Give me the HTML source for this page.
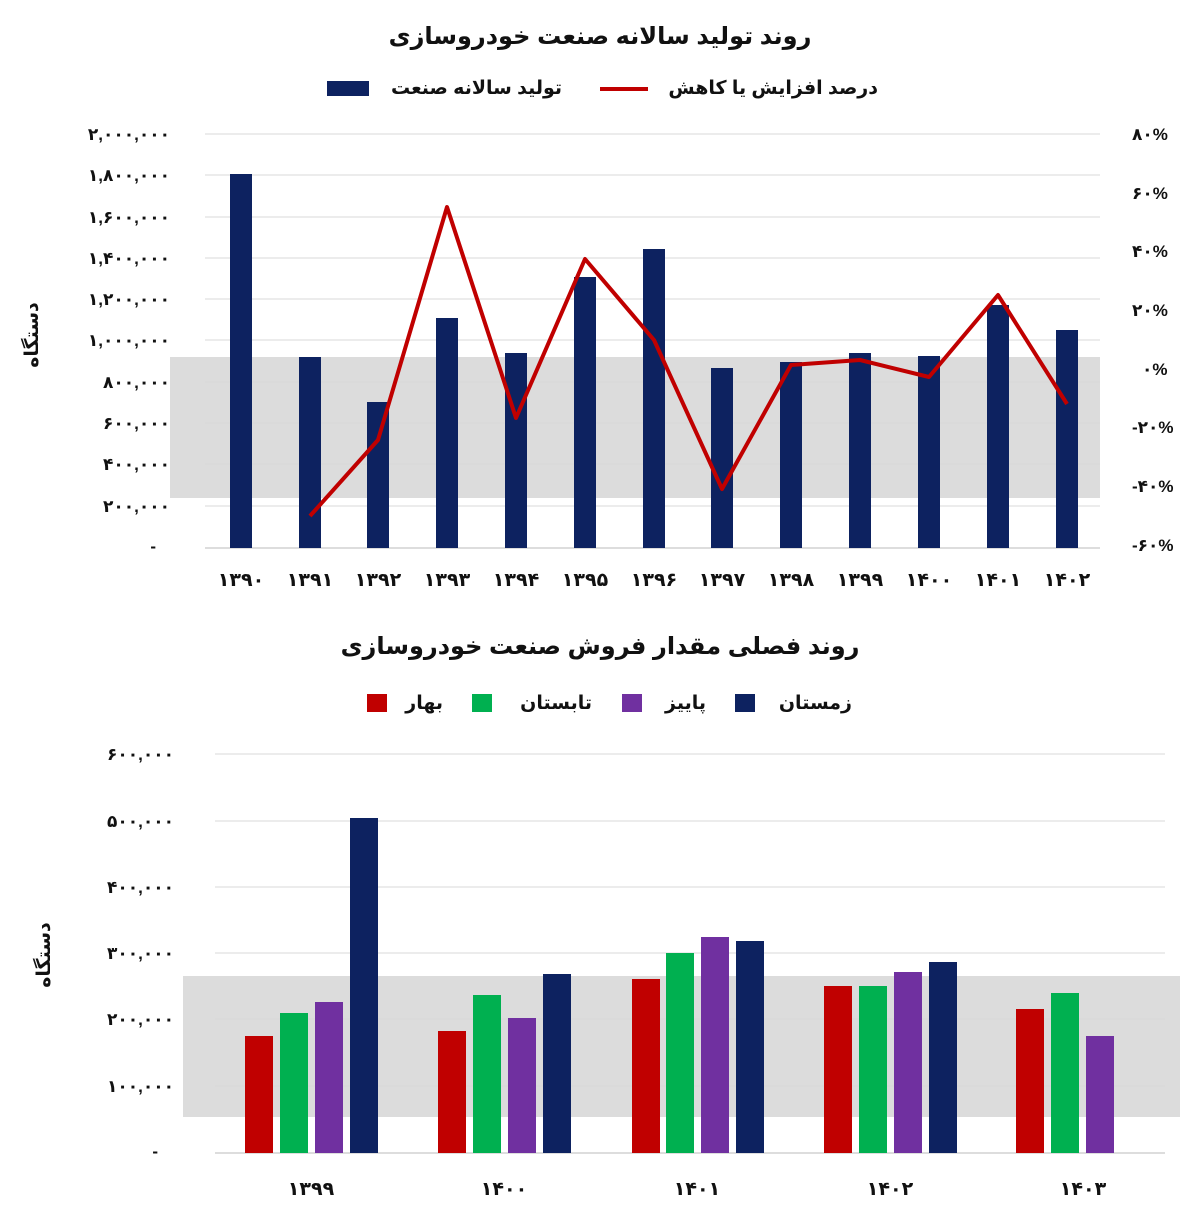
<!DOCTYPE html>
<html><head><meta charset="utf-8"><style>
body{margin:0;background:#fff}
svg{display:block}
text{font-family:"Liberation Sans","Noto Sans CJK SC","DejaVu Sans",sans-serif;font-weight:bold;fill:#111}
</style></head><body>
<svg width="1200" height="1218" viewBox="0 0 1200 1218" xmlns="http://www.w3.org/2000/svg">
<rect width="1200" height="1218" fill="#fff"/>
<!-- TOP CHART -->
<text x="600" y="44" font-size="24" text-anchor="middle">روند تولید سالانه صنعت خودروسازی</text>
<rect x="327" y="81" width="42" height="15" fill="#0d2260"/>
<text x="562" y="94" font-size="19" text-anchor="end">تولید سالانه صنعت</text>
<line x1="600" y1="89" x2="648" y2="89" stroke="#c00000" stroke-width="4"/>
<text x="878" y="94" font-size="19" text-anchor="end">درصد افزایش یا کاهش</text>
<rect x="170" y="357" width="930" height="141" fill="#dcdcdc"/>
<g stroke="#d9d9d9" stroke-width="1">
<line x1="205" x2="1100" y1="134" y2="134"/><line x1="205" x2="1100" y1="175" y2="175"/>
<line x1="205" x2="1100" y1="217" y2="217"/><line x1="205" x2="1100" y1="258" y2="258"/>
<line x1="205" x2="1100" y1="299" y2="299"/><line x1="205" x2="1100" y1="340" y2="340"/>
<line x1="205" x2="1100" y1="382" y2="382"/><line x1="205" x2="1100" y1="423" y2="423"/>
<line x1="205" x2="1100" y1="464" y2="464"/><line x1="205" x2="1100" y1="506" y2="506"/>
<line x1="205" x2="1100" y1="548" y2="548" stroke="#bbb"/>
</g>
<g font-size="17" text-anchor="end">
<text x="170" y="140">۲,۰۰۰,۰۰۰</text><text x="170" y="181">۱,۸۰۰,۰۰۰</text>
<text x="170" y="223">۱,۶۰۰,۰۰۰</text><text x="170" y="264">۱,۴۰۰,۰۰۰</text>
<text x="170" y="305">۱,۲۰۰,۰۰۰</text><text x="170" y="346">۱,۰۰۰,۰۰۰</text>
<text x="170" y="388">۸۰۰,۰۰۰</text><text x="170" y="429">۶۰۰,۰۰۰</text>
<text x="170" y="470">۴۰۰,۰۰۰</text><text x="170" y="512">۲۰۰,۰۰۰</text>
<text x="156" y="552">-</text>
</g>
<g font-size="17" text-anchor="start">
<text x="1132" y="140">۸۰%</text><text x="1132" y="199">۶۰%</text>
<text x="1132" y="257">۴۰%</text><text x="1132" y="316">۲۰%</text>
<text x="1142" y="375">۰%</text><text x="1132" y="433">-۲۰%</text>
<text x="1132" y="492">-۴۰%</text><text x="1132" y="551">-۶۰%</text>
</g>
<text transform="translate(38,335) rotate(-90)" font-size="19" text-anchor="middle">دستگاه</text>
<g fill="#0d2260">
<rect x="230" y="174" width="22" height="374"/><rect x="299" y="357" width="22" height="191"/>
<rect x="367" y="402" width="22" height="146"/><rect x="436" y="318" width="22" height="230"/>
<rect x="505" y="353" width="22" height="195"/><rect x="574" y="277" width="22" height="271"/>
<rect x="643" y="249" width="22" height="299"/><rect x="711" y="368" width="22" height="180"/>
<rect x="780" y="362" width="22" height="186"/><rect x="849" y="353" width="22" height="195"/>
<rect x="918" y="356" width="22" height="192"/><rect x="987" y="305" width="22" height="243"/>
<rect x="1056" y="330" width="22" height="218"/>
</g>
<polyline fill="none" stroke="#c00000" stroke-width="4" stroke-linejoin="round" points="310,516 378,440 447,207 516,418 585,259 654,340 722,489 791,365 860,360 929,377 998,295 1067,404"/>
<g font-size="19" text-anchor="middle">
<text x="241" y="586">۱۳۹۰</text><text x="310" y="586">۱۳۹۱</text><text x="378" y="586">۱۳۹۲</text>
<text x="447" y="586">۱۳۹۳</text><text x="516" y="586">۱۳۹۴</text><text x="585" y="586">۱۳۹۵</text>
<text x="654" y="586">۱۳۹۶</text><text x="722" y="586">۱۳۹۷</text><text x="791" y="586">۱۳۹۸</text>
<text x="860" y="586">۱۳۹۹</text><text x="929" y="586">۱۴۰۰</text><text x="998" y="586">۱۴۰۱</text>
<text x="1067" y="586">۱۴۰۲</text>
</g>
<!-- BOTTOM CHART -->
<text x="600" y="654" font-size="24" text-anchor="middle">روند فصلی مقدار فروش صنعت خودروسازی</text>
<rect x="367" y="694" width="20" height="18" fill="#c00000"/>
<text x="443" y="709" font-size="19" text-anchor="end">بهار</text>
<rect x="472" y="694" width="20" height="18" fill="#00b050"/>
<text x="592" y="709" font-size="19" text-anchor="end">تابستان</text>
<rect x="622" y="694" width="20" height="18" fill="#7030a0"/>
<text x="706" y="709" font-size="19" text-anchor="end">پاییز</text>
<rect x="735" y="694" width="20" height="18" fill="#0d2260"/>
<text x="852" y="709" font-size="19" text-anchor="end">زمستان</text>
<rect x="183" y="976" width="997" height="141" fill="#dcdcdc"/>
<g stroke="#d9d9d9" stroke-width="1">
<line x1="215" x2="1165" y1="754" y2="754"/><line x1="215" x2="1165" y1="821" y2="821"/>
<line x1="215" x2="1165" y1="887" y2="887"/><line x1="215" x2="1165" y1="953" y2="953"/>
<line x1="215" x2="1165" y1="1019" y2="1019"/><line x1="215" x2="1165" y1="1086" y2="1086"/>
<line x1="215" x2="1165" y1="1153" y2="1153" stroke="#bbb"/>
</g>
<g font-size="17" text-anchor="end">
<text x="174" y="760">۶۰۰,۰۰۰</text><text x="174" y="827">۵۰۰,۰۰۰</text>
<text x="174" y="893">۴۰۰,۰۰۰</text><text x="174" y="959">۳۰۰,۰۰۰</text>
<text x="174" y="1025">۲۰۰,۰۰۰</text><text x="174" y="1092">۱۰۰,۰۰۰</text>
<text x="158" y="1157">-</text>
</g>
<text transform="translate(50,955) rotate(-90)" font-size="19" text-anchor="middle">دستگاه</text>
<g>
<rect x="245" y="1036" width="28" height="117" fill="#c00000"/><rect x="280" y="1013" width="28" height="140" fill="#00b050"/>
<rect x="315" y="1002" width="28" height="151" fill="#7030a0"/><rect x="350" y="818" width="28" height="335" fill="#0d2260"/>
<rect x="438" y="1031" width="28" height="122" fill="#c00000"/><rect x="473" y="995" width="28" height="158" fill="#00b050"/>
<rect x="508" y="1018" width="28" height="135" fill="#7030a0"/><rect x="543" y="974" width="28" height="179" fill="#0d2260"/>
<rect x="632" y="979" width="28" height="174" fill="#c00000"/><rect x="666" y="953" width="28" height="200" fill="#00b050"/>
<rect x="701" y="937" width="28" height="216" fill="#7030a0"/><rect x="736" y="941" width="28" height="212" fill="#0d2260"/>
<rect x="824" y="986" width="28" height="167" fill="#c00000"/><rect x="859" y="986" width="28" height="167" fill="#00b050"/>
<rect x="894" y="972" width="28" height="181" fill="#7030a0"/><rect x="929" y="962" width="28" height="191" fill="#0d2260"/>
<rect x="1016" y="1009" width="28" height="144" fill="#c00000"/><rect x="1051" y="993" width="28" height="160" fill="#00b050"/>
<rect x="1086" y="1036" width="28" height="117" fill="#7030a0"/>
</g>
<g font-size="19" text-anchor="middle">
<text x="311" y="1195">۱۳۹۹</text><text x="504" y="1195">۱۴۰۰</text><text x="697" y="1195">۱۴۰۱</text>
<text x="890" y="1195">۱۴۰۲</text><text x="1083" y="1195">۱۴۰۳</text>
</g>
</svg>
</body></html>
